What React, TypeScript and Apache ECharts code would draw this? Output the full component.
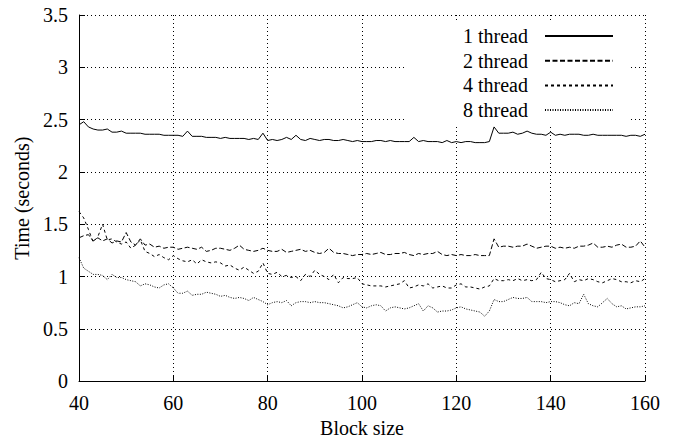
import React, { useEffect, useRef } from "react";
import * as echarts from "echarts";

// Block sizes 40..160 (step 1)
const BLOCK_MIN = 40;
const BLOCK_MAX = 160;
const BLOCK_SIZES: number[] = Array.from({ length: BLOCK_MAX - BLOCK_MIN + 1 }, (_, i) => BLOCK_MIN + i);

const SERIES_NAMES = ["1 thread", "2 thread", "4 thread", "8 thread"];

const THREAD_1 = [
  2.45, 2.48, 2.43, 2.41, 2.40, 2.40, 2.41, 2.38, 2.38, 2.39,
  2.37, 2.37, 2.37, 2.37, 2.36, 2.36, 2.36, 2.36, 2.35, 2.35,
  2.35, 2.35, 2.34, 2.39, 2.34, 2.34, 2.34, 2.33, 2.33, 2.33,
  2.32, 2.33, 2.32, 2.32, 2.32, 2.32, 2.31, 2.32, 2.31, 2.37,
  2.30, 2.31, 2.30, 2.31, 2.33, 2.31, 2.35, 2.31, 2.30, 2.32,
  2.31, 2.30, 2.31, 2.31, 2.30, 2.30, 2.31, 2.30, 2.29, 2.30,
  2.29, 2.29, 2.29, 2.30, 2.30, 2.29, 2.30, 2.29, 2.29, 2.29,
  2.29, 2.33, 2.29, 2.30, 2.29, 2.29, 2.29, 2.28, 2.30, 2.28,
  2.29, 2.28, 2.29, 2.29, 2.28, 2.28, 2.28, 2.29, 2.43, 2.37,
  2.37, 2.37, 2.38, 2.36, 2.37, 2.39, 2.37, 2.36, 2.36, 2.35,
  2.38, 2.35, 2.36, 2.35, 2.36, 2.36, 2.36, 2.35, 2.35, 2.36,
  2.35, 2.35, 2.35, 2.35, 2.35, 2.35, 2.34, 2.35, 2.35, 2.34,
  2.36,
];

const THREAD_2 = [
  1.37, 1.39, 1.40, 1.34, 1.37, 1.34, 1.36, 1.32, 1.34, 1.33,
  1.42, 1.33, 1.30, 1.36, 1.30, 1.31, 1.28, 1.29, 1.27, 1.28,
  1.28, 1.26, 1.27, 1.28, 1.27, 1.26, 1.28, 1.24, 1.25, 1.27,
  1.27, 1.26, 1.25, 1.27, 1.30, 1.26, 1.25, 1.24, 1.25, 1.27,
  1.25, 1.24, 1.24, 1.26, 1.23, 1.24, 1.25, 1.26, 1.24, 1.25,
  1.23, 1.22, 1.23, 1.27, 1.23, 1.22, 1.22, 1.21, 1.20, 1.21,
  1.21, 1.22, 1.21, 1.22, 1.23, 1.21, 1.21, 1.22, 1.22, 1.23,
  1.21, 1.20, 1.22, 1.21, 1.22, 1.22, 1.24, 1.21, 1.20, 1.21,
  1.20, 1.21, 1.20, 1.20, 1.21, 1.20, 1.20, 1.20, 1.36, 1.28,
  1.29, 1.29, 1.28, 1.29, 1.29, 1.31, 1.29, 1.27, 1.28, 1.29,
  1.29, 1.27, 1.28, 1.27, 1.28, 1.27, 1.29, 1.29, 1.30, 1.32,
  1.28, 1.28, 1.29, 1.28, 1.30, 1.31, 1.28, 1.28, 1.29, 1.34,
  1.28,
];

const THREAD_4 = [
  1.62, 1.56, 1.45, 1.33, 1.38, 1.50, 1.35, 1.36, 1.33, 1.31,
  1.33, 1.27, 1.30, 1.35, 1.24, 1.22, 1.19, 1.21, 1.18, 1.16,
  1.20, 1.17, 1.15, 1.14, 1.16, 1.12, 1.16, 1.14, 1.13, 1.14,
  1.13, 1.10, 1.11, 1.08, 1.06, 1.09, 1.06, 1.03, 1.05, 1.13,
  1.03, 1.02, 1.04, 1.00, 1.01, 0.99, 1.00, 0.96, 1.02, 1.00,
  1.06, 1.02, 1.00, 0.97, 1.02, 0.94, 0.99, 0.98, 0.98, 0.99,
  0.93, 0.92, 0.91, 0.91, 0.91, 0.90, 0.91, 0.92, 0.93, 0.96,
  0.89, 0.90, 0.92, 0.91, 0.93, 0.89, 0.90, 0.91, 0.89, 0.89,
  0.92, 0.93, 0.90, 0.90, 0.89, 0.88, 0.90, 0.91, 0.98, 0.96,
  0.96, 0.97, 0.96, 0.98, 0.96, 0.97, 0.96, 0.97, 1.04, 0.98,
  0.97, 0.95, 0.96, 0.97, 1.03, 0.95, 0.97, 0.96, 0.98, 0.97,
  0.95, 0.94, 0.96, 0.98, 0.97, 0.95, 0.95, 0.94, 0.96, 0.95,
  0.98,
];

const THREAD_8 = [
  1.18, 1.08, 1.05, 1.02, 1.02, 1.01, 0.97, 1.02, 0.99, 0.99,
  0.97, 0.96, 0.95, 0.91, 0.93, 0.92, 0.90, 0.89, 0.92, 0.93,
  0.89, 0.84, 0.84, 0.86, 0.82, 0.83, 0.83, 0.85, 0.84, 0.83,
  0.81, 0.82, 0.80, 0.79, 0.80, 0.79, 0.77, 0.80, 0.78, 0.76,
  0.73, 0.75, 0.76, 0.75, 0.77, 0.72, 0.75, 0.76, 0.76, 0.75,
  0.76, 0.75, 0.75, 0.74, 0.73, 0.72, 0.70, 0.71, 0.73, 0.75,
  0.71, 0.70, 0.72, 0.73, 0.72, 0.67, 0.70, 0.71, 0.70, 0.69,
  0.70, 0.72, 0.74, 0.67, 0.72, 0.70, 0.66, 0.67, 0.67, 0.68,
  0.70, 0.71, 0.69, 0.68, 0.67, 0.66, 0.62, 0.67, 0.78, 0.76,
  0.76, 0.78, 0.80, 0.79, 0.79, 0.80, 0.76, 0.76, 0.76, 0.75,
  0.76, 0.76, 0.75, 0.73, 0.72, 0.75, 0.74, 0.83, 0.74, 0.72,
  0.71, 0.75, 0.79, 0.74, 0.71, 0.72, 0.69, 0.70, 0.71, 0.71,
  0.72,
];

const SERIES_VALUES = [THREAD_1, THREAD_2, THREAD_4, THREAD_8];
const DASHES: (string | number[])[] = ["solid", [5, 2.5], [3, 3], [1, 1.5]];

const FONT = "serif";

export default function App() {
  const ref = useRef<HTMLDivElement>(null);

  useEffect(() => {
    document.body.style.margin = "0";
    if (!ref.current) return;
    const chart = echarts.init(ref.current, undefined, { renderer: "svg" });

    const series = SERIES_NAMES.map((name, si) => ({
      name,
      type: "line",
      data: BLOCK_SIZES.map((x, i) => [x, SERIES_VALUES[si][i]]),
      symbol: "none",
      showSymbol: false,
      lineStyle: { color: "#000", width: 1, type: DASHES[si] },
      itemStyle: { color: "#000" },
      z: 3,
    }));

    chart.setOption({
      animation: false,
      backgroundColor: "#fff",
      textStyle: { fontFamily: FONT },
      grid: { left: 79, right: 28, top: 15, bottom: 56, containLabel: false },
      legend: {
        orient: "vertical",
        left: 407,
        top: 21,
        align: "right",
        backgroundColor: "#fff",
        padding: [5, 15, 5, 48],
        itemWidth: 68,
        itemHeight: 14,
        itemGap: 4.7,
        itemStyle: { opacity: 0 },
        textStyle: {
          fontFamily: FONT,
          fontSize: 20,
          lineHeight: 20,
          color: "#000",
          width: 73,
          align: "right",
          padding: [0, 12, 0, 0],
        },
        data: SERIES_NAMES,
        selectedMode: false,
      },
      xAxis: {
        type: "value",
        min: BLOCK_MIN,
        max: BLOCK_MAX,
        interval: 20,
        name: "Block size",
        nameLocation: "middle",
        nameGap: 33,
        nameTextStyle: { fontFamily: FONT, fontSize: 20, color: "#000" },
        axisLine: { show: true, onZero: false, lineStyle: { color: "#000", width: 1 } },
        axisTick: { show: true, inside: true, length: 6, lineStyle: { color: "#000" } },
        axisLabel: { fontFamily: FONT, fontSize: 20, color: "#000", margin: 12 },
        splitLine: { show: true, lineStyle: { color: "#000", width: 1, type: [1, 3] } },
      },
      yAxis: {
        type: "value",
        min: 0,
        max: 3.5,
        interval: 0.5,
        name: "Time (seconds)",
        nameLocation: "middle",
        nameGap: 47,
        nameTextStyle: { fontFamily: FONT, fontSize: 20, color: "#000" },
        axisLine: { show: true, lineStyle: { color: "#000", width: 1 } },
        axisTick: { show: true, inside: true, length: 6, lineStyle: { color: "#000" } },
        axisLabel: { fontFamily: FONT, fontSize: 20, color: "#000", margin: 11 },
        splitLine: { show: true, lineStyle: { color: "#000", width: 1, type: [1, 3] } },
      },
      series,
    });

    return () => chart.dispose();
  }, []);

  return <div ref={ref} style={{ width: 673, height: 443 }} />;
}
